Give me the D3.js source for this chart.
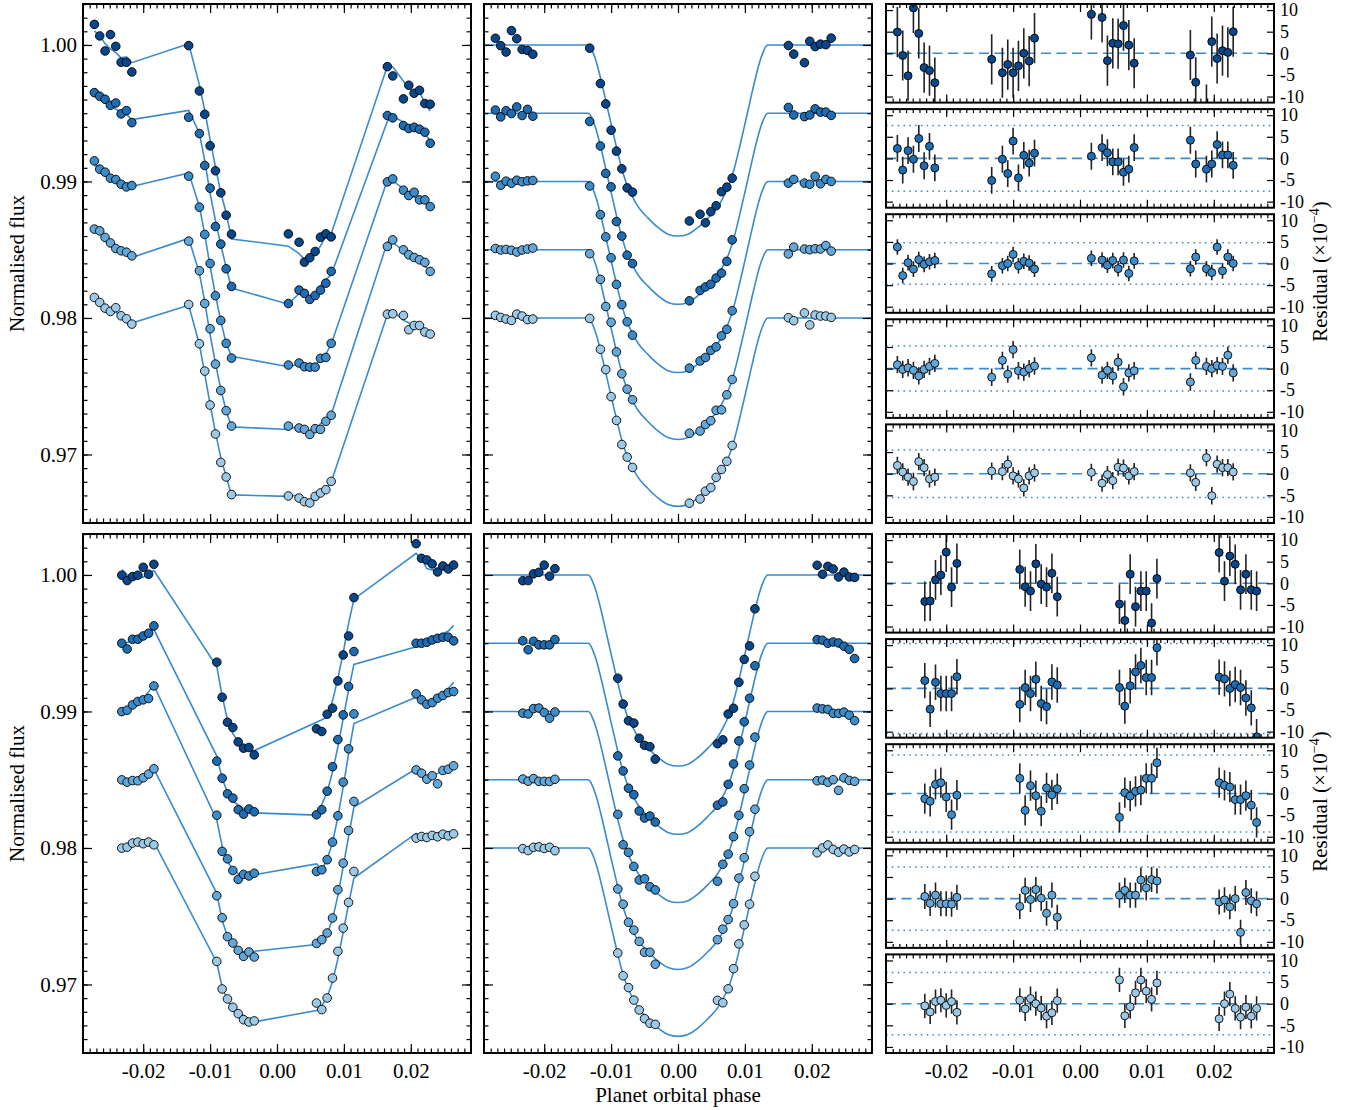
<!DOCTYPE html>
<html><head><meta charset="utf-8">
<script src="https://cdn.jsdelivr.net/npm/d3@7"></script>
<style>
body{margin:0;background:#fff}
svg{display:block}
</style>
</head><body>
<svg id="c" width="1346" height="1110"></svg>
<script>
// ---------------- DATA ----------------
const phaseTop = [-0.0273,-0.0265,-0.0257,-0.0249,-0.0241,-0.0233,-0.0225,-0.0217,
  -0.0132,-0.0116,-0.0108,-0.0100,-0.0092,-0.0084,-0.0076,-0.0068,
  0.0017,0.0033,0.0041,0.0049,0.0057,0.0065,0.0073,0.0081,
  0.0165,0.0173,0.0189,0.0197,0.0205,0.0213,0.0221,0.0229];
const phaseBottom = [-0.0232,-0.0224,-0.0216,-0.0208,-0.0200,-0.0192,-0.0184,
  -0.0090,-0.0082,-0.0074,-0.0066,-0.0058,-0.0050,-0.0042,-0.0034,
  0.0059,0.0067,0.0075,0.0083,0.0091,0.0099,0.0107,0.0115,
  0.0208,0.0216,0.0224,0.0232,0.0240,0.0248,0.0256,0.0264];

// raw normalised flux (left panels)
const rawTop1 = [1.00151,1.00066,0.99956,1.00076,0.99990,0.99873,0.99873,0.99802,
  0.99995,0.99663,0.99492,0.99261,0.99078,0.98917,0.98753,0.98614,
  0.98616,0.98555,0.98409,0.98441,0.98487,0.98592,0.98616,0.98594,
  0.99841,0.99773,0.99605,0.99705,0.99646,0.99668,0.99571,0.99566];
const rawTop2 = [0.99651,0.99624,0.99602,0.99558,0.99575,0.99495,0.99519,0.99431,
  0.99470,0.99351,0.99117,0.98951,0.98670,0.98541,0.98360,0.98231,
  0.98106,0.98204,0.98180,0.98136,0.98165,0.98204,0.98255,0.98341,
  0.99483,0.99466,0.99409,0.99388,0.99397,0.99383,0.99361,0.99280];
const rawTop3 = [0.99151,0.99090,0.99068,0.99024,0.99014,0.98980,0.98960,0.98970,
  0.99039,0.98812,0.98612,0.98399,0.98163,0.97982,0.97814,0.97706,
  0.97655,0.97670,0.97643,0.97640,0.97640,0.97704,0.97711,0.97814,
  0.98997,0.99019,0.98936,0.98897,0.98921,0.98865,0.98865,0.98816];
const rawTop4 = [0.98651,0.98638,0.98590,0.98550,0.98509,0.98492,0.98482,0.98455,
  0.98563,0.98346,0.98106,0.97921,0.97662,0.97469,0.97321,0.97208,
  0.97208,0.97194,0.97184,0.97147,0.97189,0.97184,0.97243,0.97287,
  0.98524,0.98572,0.98499,0.98463,0.98443,0.98426,0.98407,0.98341];
const rawTop5 = [0.98150,0.98114,0.98072,0.98048,0.98075,0.98016,0.97994,0.97955,
  0.98099,0.97811,0.97611,0.97362,0.97150,0.96942,0.96835,0.96706,
  0.96696,0.96681,0.96654,0.96645,0.96693,0.96718,0.96742,0.96803,
  0.98028,0.98031,0.98019,0.97914,0.97945,0.97945,0.97897,0.97882];

const rawBot1 = [0.99998,0.99959,0.99988,0.99998,1.00056,1.00005,1.00078,
  0.99361,0.99104,0.98921,0.98882,0.98777,0.98731,0.98736,0.98682,
  0.98873,0.98853,0.98980,0.99024,0.99224,0.99414,0.99553,0.99834,
  1.00229,1.00122,1.00110,1.00081,1.00022,1.00066,1.00044,1.00073];
const rawBot2 = [0.99500,0.99458,0.99529,0.99529,0.99553,0.99573,0.99627,
  0.98636,0.98511,0.98397,0.98365,0.98280,0.98248,0.98285,0.98265,
  0.98243,0.98280,0.98416,0.98595,0.98794,0.98975,0.99183,0.99439,
  0.99500,0.99500,0.99507,0.99524,0.99536,0.99544,0.99544,0.99517];
const rawBot3 = [0.98999,0.99009,0.99048,0.99073,0.99085,0.99095,0.99187,
  0.98240,0.97975,0.97920,0.97835,0.97770,0.97806,0.97795,0.97815,
  0.97828,0.97840,0.97914,0.98043,0.98236,0.98482,0.98726,0.98982,
  0.99129,0.99085,0.99053,0.99065,0.99097,0.99117,0.99139,0.99146];
const rawBot4 = [0.98499,0.98482,0.98494,0.98492,0.98514,0.98541,0.98580,
  0.97650,0.97489,0.97350,0.97304,0.97250,0.97206,0.97238,0.97201,
  0.97301,0.97328,0.97377,0.97487,0.97694,0.97889,0.98128,0.98341,
  0.98572,0.98548,0.98504,0.98529,0.98470,0.98568,0.98577,0.98602];
const rawBot5 = [0.97999,0.98006,0.98036,0.98043,0.98031,0.98043,0.98023,
  0.97169,0.96967,0.96894,0.96833,0.96786,0.96742,0.96725,0.96733,
  0.96864,0.96816,0.96901,0.97047,0.97243,0.97413,0.97601,0.97828,
  0.98072,0.98084,0.98077,0.98092,0.98082,0.98101,0.98089,0.98104];

// residuals (units of 1e-4)
const resTop1 = [4.9,-0.5,-5.2,10.5,4.6,-3.3,-4.0,-6.8,-1.4,-4.5,-2.6,-4.5,-2.9,0.0,-1.8,3.5,
  9.0,8.3,-1.7,2.3,2.2,6.4,1.9,-2.3,-0.4,-6.7,-13.0,2.7,-1.2,0.6,0.2,5.0];
const resTop2 = [2.3,-2.7,1.8,-0.2,4.6,-1.7,2.8,-2.2,-5.1,-0.2,-3.5,4.0,-4.5,0.7,-1.1,1.2,
  0.5,2.5,1.3,-0.8,-0.8,-3.2,-2.5,2.5,4.2,-1.3,-2.5,-1.3,3.2,0.8,0.8,-1.6];
const resTop3 = [3.8,-2.8,0.2,-1.3,0.9,-0.2,0.4,0.7,-2.4,-0.5,0.0,2.1,-0.5,0.5,0.1,-1.3,
  1.2,0.8,-0.4,0.7,-1.2,0.8,-2.3,0.6,-1.2,1.5,-1.2,-2.1,3.8,-1.7,1.5,0.0];
const resTop4 = [0.9,-0.2,0.2,-0.4,-1.7,-0.2,0.5,1.2,-2.0,1.9,-1.3,4.4,-0.5,-0.8,0.0,0.6,
  2.5,-1.5,-0.4,-1.7,1.5,-4.2,-1.0,-0.5,-3.1,1.9,0.5,0.0,0.7,0.5,3.1,-1.0];
const resTop5 = [1.9,0.4,-0.8,-1.8,2.8,1.4,-1.2,-0.8,0.6,0.5,2.2,-0.5,-1.2,-3.3,-0.5,0.2,
  0.3,-2.2,-0.2,-1.6,1.5,1.3,-0.5,0.5,0.2,-2.0,3.7,-5.1,2.2,1.4,1.4,0.4];

const resBot1 = [-4.2,-4.1,0.8,1.9,7.2,-0.9,4.6,3.2,-0.8,-1.8,4.5,-0.2,-0.9,2.3,-3.1,
  -4.8,-8.6,2.1,-5.4,-1.8,-1.8,-9.2,1.1,7.1,0.5,6.3,4.4,-1.5,2.1,-1.5,-1.8];
const resBot2 = [1.8,-4.8,1.4,-1.2,-1.2,-1.2,2.7,-3.7,0.2,-1.2,2.1,-3.5,-4.2,1.5,0.8,
  0.2,-4.1,0.6,3.8,5.3,2.5,2.5,9.4,2.6,2.2,0.0,0.9,0.2,-2.2,-4.5,-11.2];
const resBot3 = [-1.2,-1.8,2.1,2.5,-0.8,-4.9,-0.4,3.5,-3.9,1.8,-0.5,-4.1,1.3,-0.3,1.1,
  -5.5,0.2,-0.6,0.5,0.8,3.5,3.5,7.1,2.5,1.9,1.5,-1.4,-1.4,-0.5,-2.7,-6.7];
const resBot4 = [0.5,-1.1,0.8,-1.2,-1.2,-1.3,0.3,-1.8,1.9,-0.2,2.1,0.1,-3.4,0.8,-4.3,
  0.8,1.9,0.8,0.8,4.3,2.5,4.4,4.1,-0.8,-0.3,-1.9,0.0,-7.8,1.4,-0.5,-1.2];
const resBot5 = [-0.5,-1.9,0.5,0.8,-0.4,0.5,-2.0,0.8,-1.2,1.2,0.0,-1.0,-2.9,-2.1,0.7,
  5.5,-2.8,-0.7,2.5,5.5,2.9,1.0,4.8,-3.5,0.0,2.2,-1.1,-3.1,-0.8,-2.9,-1.1];

// residual error bars (1e-4) and dotted limits per channel
const errTop = [5.8,3.1,1.8,2.0,2.0];
const errBot = [4.6,4.1,3.5,2.9,2.8];
const limitTop = [14.5,7.6,4.8,5.2,5.5];
const limitBot = [13.5,10.4,8.9,7.3,7.2];

// series offsets and transit model shape (fraction of depth vs |phase|)
const baselines = [1.000,0.995,0.990,0.985,0.980];
const depths = [0.0140,0.0140,0.0140,0.0139,0.0138];
const transitPhase = [0,0.0015,0.003,0.0045,0.006,0.0068,0.0076,0.0084,0.0092,0.0100,0.0108,0.0116,0.0122,0.0127,0.0131,0.0134,0.029];
const transitFrac  = [1,0.99,0.955,0.905,0.845,0.795,0.735,0.648,0.535,0.414,0.29,0.17,0.09,0.04,0.01,0,0];

const seriesColors = ["#0a468a","#1e6cb2","#3c8cca","#63a8d9","#9ccae6"];
const lineColor = "#3a8acd";
const xTickValues = [-0.02,-0.01,0.00,0.01,0.02];
const yTickValues = [0.97,0.98,0.99,1.00];
const rTickValues = [-10,-5,0,5,10];

// ---------------- CHART ----------------
const rows = [
  {top:4, bottom:523, phase:phaseTop, raw:[rawTop1,rawTop2,rawTop3,rawTop4,rawTop5],
   res:[resTop1,resTop2,resTop3,resTop4,resTop5], err:errTop, lim:limitTop, labels:false},
  {top:534, bottom:1053, phase:phaseBottom, raw:[rawBot1,rawBot2,rawBot3,rawBot4,rawBot5],
   res:[resBot1,resBot2,resBot3,resBot4,resBot5], err:errBot, lim:limitBot, labels:true}
];
const colL=[83,471], colM=[484,872], colR=[886,1274];
const xDomain=[-0.029,0.029], fluxDomain=[0.96498,1.00300], resDomain=[-11.4,11.4];
const FONT='"Liberation Serif","Times New Roman",serif';
const FS=21, FSR=18;
const svg=d3.select("#c");
const defs=svg.append("defs");
let clipId=0;
const fmtX = d => d3.format(".2f")(d).replace("\u2212","-").replace("-0.00","0.00");
const fmtY = d => d3.format(".2f")(d);
const fmtR = d => String(d);

const fracScale = d3.scaleLinear().domain(transitPhase).range(transitFrac).clamp(true);
const modelPh = transitPhase.slice().reverse().map(p=>-p).concat(transitPhase.slice(1));
const modelFr = transitFrac.slice().reverse().concat(transitFrac.slice(1));

function clip(x0,x1,y0,y1){
  const id="cp"+(clipId++);
  defs.append("clipPath").attr("id",id).append("rect").attr("x",x0).attr("y",y0).attr("width",x1-x0).attr("height",y1-y0);
  return "url(#"+id+")";
}
function styleAxis(g, fs){
  g.select(".domain").remove();
  g.attr("font-family",FONT).attr("font-size",fs||FS);
  g.selectAll(".tick line").attr("stroke","#000").attr("stroke-width",1.2);
  g.selectAll(".tick text").attr("fill","#000");
}
function frame(x, y, x0,x1,y0,y1, o){
  const g=svg.append("g");
  const xMinor = d3.range(-28,29).map(d=>d/1000);
  g.append("g").attr("transform",`translate(0,${y1})`).call(d3.axisBottom(x).tickValues(xMinor).tickSize(-o.xMinorLen).tickFormat("")).call(styleAxis);
  g.append("g").attr("transform",`translate(0,${y1})`).call(d3.axisBottom(x).tickValues(xTickValues).tickSize(-o.xMajorLen).tickPadding(10).tickFormat(o.xLabels?fmtX:"")).call(styleAxis);
  g.append("g").attr("transform",`translate(0,${y0})`).call(d3.axisTop(x).tickValues(xMinor).tickSize(-o.xMinorLen).tickFormat("")).call(styleAxis);
  g.append("g").attr("transform",`translate(0,${y0})`).call(d3.axisTop(x).tickValues(xTickValues).tickSize(-o.xMajorLen).tickFormat("")).call(styleAxis);
  g.append("g").attr("transform",`translate(${x0},0)`).call(d3.axisLeft(y).tickValues(o.yMinor).tickSize(-o.yMinorLen).tickFormat("")).call(styleAxis);
  g.append("g").attr("transform",`translate(${x0},0)`).call(d3.axisLeft(y).tickValues(o.yMajor).tickSize(-o.yMajorLen).tickPadding(6).tickFormat(o.yLeftLabels?o.yFmt:"")).call(styleAxis);
  g.append("g").attr("transform",`translate(${x1},0)`).call(d3.axisRight(y).tickValues(o.yMinor).tickSize(-o.yMinorLen).tickFormat("")).call(styleAxis);
  g.append("g").attr("transform",`translate(${x1},0)`).call(d3.axisRight(y).tickValues(o.yMajor).tickSize(-o.yMajorLen).tickPadding(6).tickFormat(o.yRightLabels?o.yFmt:"")).call(ax=>styleAxis(ax,o.yLabelSize));
  g.append("rect").attr("x",x0).attr("y",y0).attr("width",x1-x0).attr("height",y1-y0)
    .attr("fill","none").attr("stroke","#000").attr("stroke-width",2);
}

const fluxMinor = d3.range(965,1004).map(d=>d/1000);

rows.forEach((row,ri)=>{
  const {top,bottom,phase} = row;
  // ---- left: raw flux + full model ----
  const xL=d3.scaleLinear().domain(xDomain).range(colL);
  const y=d3.scaleLinear().domain(fluxDomain).range([bottom,top]);
  const gL=svg.append("g").attr("clip-path",clip(colL[0],colL[1],top,bottom));
  row.raw.forEach((raw,si)=>{
    const model = raw.map((v,i)=>v - row.res[si][i]*1e-4);
    gL.append("path").datum(model.map((m,i)=>[phase[i],m]))
      .attr("d",d3.line().x(d=>xL(d[0])).y(d=>y(d[1])))
      .attr("fill","none").attr("stroke",lineColor).attr("stroke-width",1.6);
  });
  row.raw.forEach((raw,si)=>{
    gL.append("g").selectAll("circle").data(raw).join("circle")
      .attr("cx",(d,i)=>xL(phase[i])).attr("cy",d=>y(d)).attr("r",4.3)
      .attr("fill",seriesColors[si]).attr("stroke","#000").attr("stroke-width",0.9);
  });
  frame(xL,y,colL[0],colL[1],top,bottom,{xMinorLen:4.5,xMajorLen:9,yMinorLen:4.5,yMajorLen:9,
    yMajor:yTickValues,yMinor:fluxMinor,yLeftLabels:true,yRightLabels:false,yFmt:fmtY,xLabels:row.labels});

  // ---- middle: detrended + transit model ----
  const xM=d3.scaleLinear().domain(xDomain).range(colM);
  const gM=svg.append("g").attr("clip-path",clip(colM[0],colM[1],top,bottom));
  baselines.forEach((b,si)=>{
    gM.append("path").datum(modelPh.map((p,i)=>[p, b - depths[si]*modelFr[i]]))
      .attr("d",d3.line().x(d=>xM(d[0])).y(d=>y(d[1])).curve(d3.curveMonotoneX))
      .attr("fill","none").attr("stroke",lineColor).attr("stroke-width",1.6);
  });
  baselines.forEach((b,si)=>{
    gM.append("g").selectAll("circle").data(phase).join("circle")
      .attr("cx",d=>xM(d))
      .attr("cy",(d,i)=>y(b - depths[si]*fracScale(Math.abs(d)) + row.res[si][i]*1e-4))
      .attr("r",4.3).attr("fill",seriesColors[si]).attr("stroke","#000").attr("stroke-width",0.9);
  });
  frame(xM,y,colM[0],colM[1],top,bottom,{xMinorLen:4.5,xMajorLen:9,yMinorLen:4.5,yMajorLen:9,
    yMajor:yTickValues,yMinor:fluxMinor,yLeftLabels:false,yRightLabels:false,yFmt:fmtY,xLabels:row.labels});

  // ---- right: residual panels ----
  const xR=d3.scaleLinear().domain(xDomain).range(colR);
  const gap=6.5, ph=((bottom-top)-4*gap)/5;
  row.res.forEach((res,si)=>{
    const p0=top+si*(ph+gap), p1=p0+ph;
    const yr=d3.scaleLinear().domain(resDomain).range([p1,p0]);
    const g=svg.append("g").attr("clip-path",clip(colR[0],colR[1],p0,p1));
    [row.lim[si],-row.lim[si]].forEach(l=>{
      g.append("line").attr("x1",colR[0]).attr("x2",colR[1]).attr("y1",yr(l)).attr("y2",yr(l))
        .attr("stroke",lineColor).attr("stroke-width",1.5).attr("stroke-dasharray","1.6,4.2");
    });
    g.append("line").attr("x1",colR[0]).attr("x2",colR[1]).attr("y1",yr(0)).attr("y2",yr(0))
      .attr("stroke",lineColor).attr("stroke-width",1.6).attr("stroke-dasharray","10,5.5");
    g.append("g").selectAll("line").data(res).join("line")
      .attr("x1",(d,i)=>xR(phase[i])).attr("x2",(d,i)=>xR(phase[i]))
      .attr("y1",d=>yr(d-row.err[si])).attr("y2",d=>yr(d+row.err[si]))
      .attr("stroke","#222").attr("stroke-width",1.6);
    g.append("g").selectAll("circle").data(res).join("circle")
      .attr("cx",(d,i)=>xR(phase[i])).attr("cy",d=>yr(d)).attr("r",4)
      .attr("fill",seriesColors[si]).attr("stroke","#000").attr("stroke-width",0.9);
    frame(xR,yr,colR[0],colR[1],p0,p1,{xMinorLen:4,xMajorLen:8,yMinorLen:4,yMajorLen:7,
      yMajor:rTickValues,yMinor:[],yLeftLabels:false,yRightLabels:true,yFmt:fmtR,yLabelSize:FSR,
      xLabels:row.labels && si===4});
  });

  // axis titles
  const cy=(top+bottom)/2;
  svg.append("text").attr("transform",`translate(24,${cy})rotate(-90)`).attr("text-anchor","middle")
    .attr("font-family",FONT).attr("font-size",FS).text("Normalised flux");
  const t=svg.append("text").attr("transform",`translate(1327,${cy+8})rotate(-90)`).attr("text-anchor","middle")
    .attr("font-family",FONT).attr("font-size",FS);
  t.append("tspan").text("Residual (\u00d710");
  t.append("tspan").attr("font-size",14).attr("dy",-8).text("\u22124");
  t.append("tspan").attr("dy",8).text(")");
});

svg.append("text").attr("x",678).attr("y",1102).attr("text-anchor","middle")
  .attr("font-family",FONT).attr("font-size",FS).text("Planet orbital phase");
</script>
</body></html>
